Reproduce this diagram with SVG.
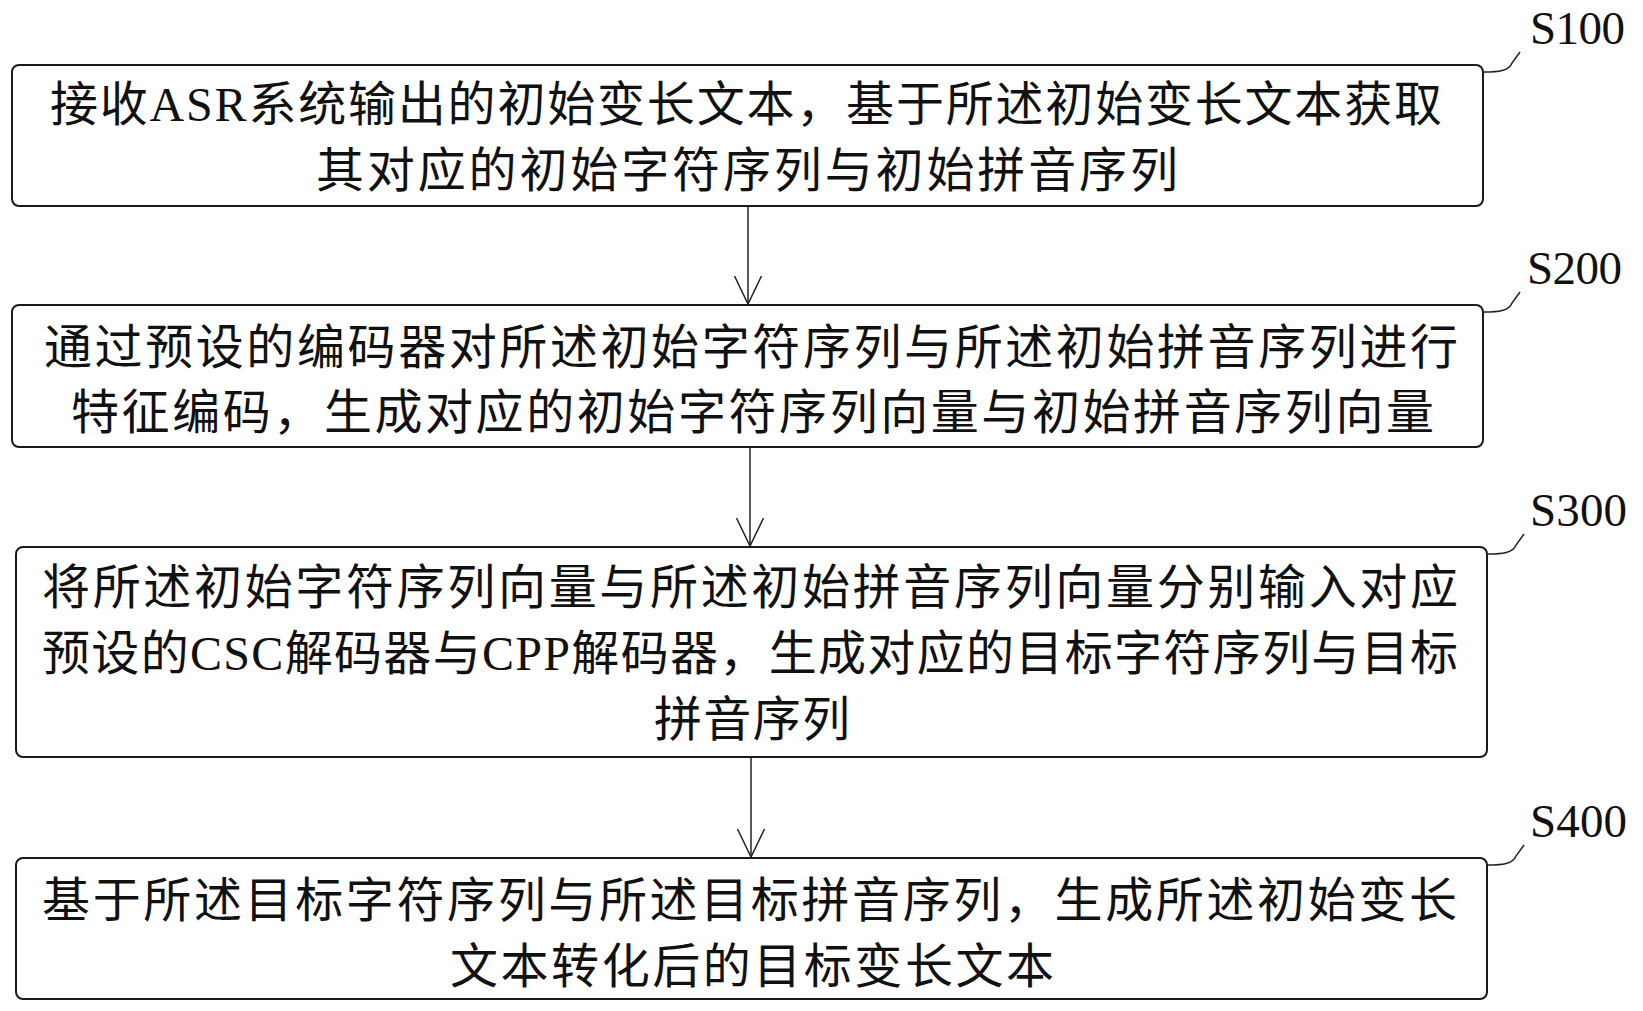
<svg xmlns="http://www.w3.org/2000/svg" width="1643" height="1011" viewBox="0 0 1643 1011">
<defs>
<style>
.box{fill:#fff;stroke:#1a1a1a;stroke-width:2}
.t{font-family:"Liberation Serif","Noto Sans CJK SC",serif;font-size:48px;fill:#111}
.lbl{font-family:"Liberation Serif",serif;font-size:47px;fill:#111}
.lead{fill:none;stroke:#222;stroke-width:1.5}
.conn{fill:none;stroke:#222;stroke-width:1.5}
</style>
<marker id="arr" viewBox="0 0 30 30" refX="28" refY="15" markerWidth="30" markerHeight="30" markerUnits="userSpaceOnUse" orient="auto">
<path d="M0,1.5 L28,15 L0,28.5" fill="none" stroke="#222" stroke-width="1.5"/>
</marker>
</defs>
<rect width="1643" height="1011" fill="#fff"/>
<g id="connectors">
<line class="conn" x1="748" y1="207" x2="748" y2="304" marker-end="url(#arr)"/>
<line class="conn" x1="750" y1="448" x2="750" y2="546" marker-end="url(#arr)"/>
<line class="conn" x1="751" y1="758" x2="751" y2="857" marker-end="url(#arr)"/>
</g>
<g id="S100">
<rect class="box" x="12" y="65" width="1471" height="141" rx="7"/>
<text class="t" x="50" y="121" textLength="1392">接收ASR系统输出的初始变长文本，基于所述初始变长文本获取</text>
<text class="t" x="316" y="187" textLength="862">其对应的初始字符序列与初始拼音序列</text>
<path class="lead" d="M1484,72 C1498,72 1509,71 1512,63 L1520,52"/>
<text class="lbl" x="1530" y="44" textLength="95">S100</text>
</g>
<g id="S200">
<rect class="box" x="12" y="305" width="1471" height="142" rx="7"/>
<text class="t" x="44" y="364" textLength="1414">通过预设的编码器对所述初始字符序列与所述初始拼音序列进行</text>
<text class="t" x="71" y="429" textLength="1363">特征编码，生成对应的初始字符序列向量与初始拼音序列向量</text>
<path class="lead" d="M1484,312 C1498,312 1509,311 1512,303 L1520,292"/>
<text class="lbl" x="1527" y="284" textLength="95">S200</text>
</g>
<g id="S300">
<rect class="box" x="16" y="547" width="1471" height="210" rx="7"/>
<text class="t" x="42" y="604" textLength="1416">将所述初始字符序列向量与所述初始拼音序列向量分别输入对应</text>
<text class="t" x="42" y="670" textLength="1416">预设的CSC解码器与CPP解码器，生成对应的目标字符序列与目标</text>
<text class="t" x="654" y="736" textLength="196">拼音序列</text>
<path class="lead" d="M1488,554 C1502,554 1513,553 1516,545 L1524,534"/>
<text class="lbl" x="1530" y="526" textLength="97">S300</text>
</g>
<g id="S400">
<rect class="box" x="16" y="858" width="1471" height="141" rx="7"/>
<text class="t" x="42" y="917" textLength="1415">基于所述目标字符序列与所述目标拼音序列，生成所述初始变长</text>
<text class="t" x="450" y="983" textLength="604">文本转化后的目标变长文本</text>
<path class="lead" d="M1488,865 C1502,865 1513,864 1516,856 L1524,845"/>
<text class="lbl" x="1530" y="837" textLength="97">S400</text>
</g>
</svg>
